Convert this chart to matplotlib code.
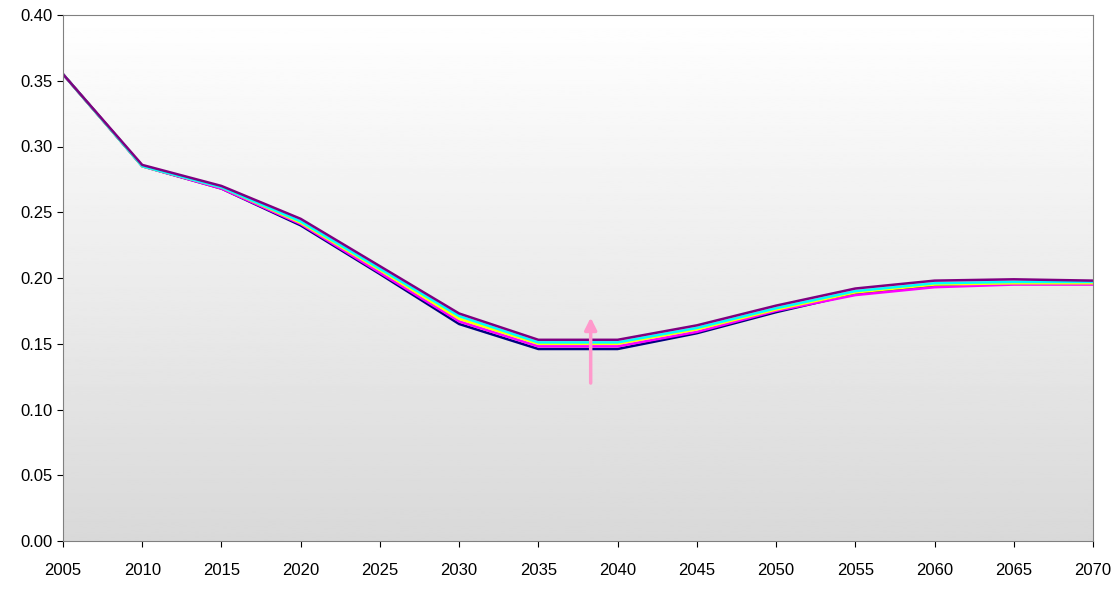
import matplotlib
matplotlib.use("Agg")
import matplotlib.pyplot as plt
import numpy as np

plt.rcParams['font.family'] = ['Liberation Sans', 'DejaVu Sans']

years = [2005, 2010, 2015, 2020, 2025, 2030, 2035, 2040, 2045, 2050, 2055, 2060, 2065, 2070]
navy    = [0.355, 0.285, 0.268, 0.240, 0.203, 0.165, 0.146, 0.146, 0.158, 0.174, 0.188, 0.194, 0.196, 0.196]
magenta = [0.355, 0.285, 0.268, 0.241, 0.204, 0.167, 0.148, 0.148, 0.159, 0.175, 0.187, 0.193, 0.195, 0.195]
yellow  = [0.355, 0.285, 0.269, 0.242, 0.206, 0.169, 0.150, 0.150, 0.161, 0.176, 0.189, 0.195, 0.196, 0.196]
cyan    = [0.355, 0.285, 0.269, 0.243, 0.207, 0.171, 0.151, 0.151, 0.162, 0.177, 0.190, 0.196, 0.197, 0.197]
purple  = [0.355, 0.286, 0.270, 0.245, 0.209, 0.173, 0.153, 0.153, 0.164, 0.179, 0.192, 0.198, 0.199, 0.198]
series = [(navy, "#000080"), (magenta, "#FF00FF"), (yellow, "#FFFF00"), (cyan, "#00FFFF"), (purple, "#800080")]
yticks = [0.00, 0.05, 0.10, 0.15, 0.20, 0.25, 0.30, 0.35, 0.40]

fig = plt.figure(figsize=(11.2, 5.91), dpi=100)
ax = fig.add_axes([63/1120, 50/591, 1030/1120, 526/591])
grad = np.linspace(1.0, 0.85, 256).reshape(-1, 1)
ax.imshow(grad, cmap="gray", vmin=0, vmax=1, aspect="auto",
          extent=[2005, 2070, 0, 0.40], origin="upper", zorder=0)
for vals, c in series:
    ax.plot(years, vals, color=c, lw=1.8, zorder=2)
ax.annotate("", xy=(2038.3, 0.172), xytext=(2038.3, 0.118),
            arrowprops=dict(arrowstyle="-|>", color="#FF99CC", lw=2.5, mutation_scale=18), zorder=3)
ax.set_xlim(2005, 2070)
ax.set_ylim(0, 0.40)
ax.set_xticks(years)
ax.set_yticks(yticks)
ax.set_yticklabels([f"{v:.2f}" for v in yticks])
ax.tick_params(labelsize=12, direction="out", length=4)
ax.tick_params(axis="x", pad=12)
for s in ax.spines.values():
    s.set_color("#808080")
fig.savefig("out.png", dpi=100)
